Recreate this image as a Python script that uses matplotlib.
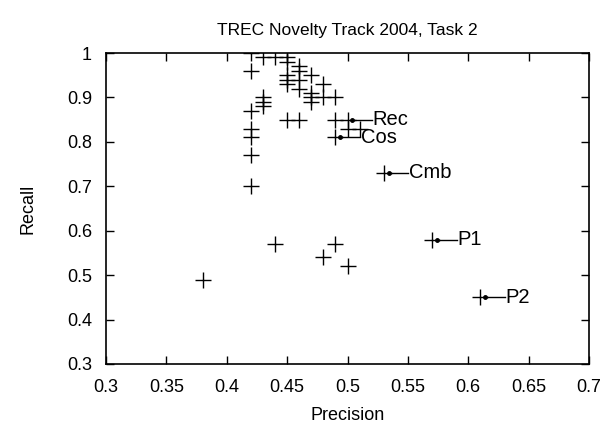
import matplotlib
matplotlib.use("Agg")
import matplotlib.pyplot as plt
from matplotlib.ticker import FuncFormatter

plt.rcParams['font.family'] = ['Liberation Sans', 'DejaVu Sans']

# Unlabelled runs (precision, recall)
precision = [0.42, 0.42, 0.42, 0.42, 0.42, 0.42, 0.42,
             0.43, 0.43, 0.43, 0.43,
             0.44,
             0.45, 0.45, 0.45, 0.45, 0.45, 0.45,
             0.46, 0.46, 0.46, 0.46, 0.46,
             0.47, 0.47, 0.47, 0.47,
             0.48, 0.48,
             0.49, 0.49,
             0.50, 0.51,
             0.38, 0.44, 0.48, 0.49, 0.50]
recall = [1.00, 0.96, 0.87, 0.83, 0.81, 0.77, 0.70,
          0.99, 0.90, 0.89, 0.88,
          0.99,
          0.99, 0.98, 0.95, 0.94, 0.93, 0.85,
          0.97, 0.96, 0.94, 0.92, 0.85,
          0.95, 0.91, 0.90, 0.89,
          0.93, 0.90,
          0.90, 0.85,
          0.83, 0.83,
          0.49, 0.57, 0.54, 0.57, 0.52]

# Labelled runs
lab_names = ['Rec', 'Cos', 'Cmb', 'P1', 'P2']
lab_precision = [0.50, 0.49, 0.53, 0.57, 0.61]
lab_recall = [0.85, 0.81, 0.73, 0.58, 0.45]

x_ticks = [0.3, 0.35, 0.4, 0.45, 0.5, 0.55, 0.6, 0.65, 0.7]
y_ticks = [0.3, 0.4, 0.5, 0.6, 0.7, 0.8, 0.9, 1.0]

fig = plt.figure(figsize=(6.08, 4.25), dpi=100)
ax = fig.add_axes([106/608, 1-364/425, (589-106)/608, (364-53)/425])

ax.plot(precision + lab_precision, recall + lab_recall, linestyle='none',
        marker='+', markersize=11, markeredgewidth=1.0, color='black')

for name, px, py in zip(lab_names, lab_precision, lab_recall):
    ax.plot([px + 0.004, px + 0.0205], [py, py], color='black', lw=1.0)
    ax.plot([px + 0.004], [py], marker='o', markersize=2.5, color='black')
    ax.text(px + 0.021, py, name, ha='left', va='center', fontsize=14.5)

ax.set_xlim(0.3, 0.7)
ax.set_ylim(0.3, 1.0)
ax.set_xticks(x_ticks)
ax.set_yticks(y_ticks)
fmt = FuncFormatter(lambda v, p: ('%g' % round(v, 3)))
ax.xaxis.set_major_formatter(fmt)
ax.yaxis.set_major_formatter(fmt)
ax.tick_params(direction='in', length=6, width=1, top=True, right=True,
               labelsize=13)
ax.tick_params(axis='x', pad=11)
ax.tick_params(axis='y', pad=10)
for s in ax.spines.values():
    s.set_linewidth(1.2)

ax.set_xlabel('Precision', fontsize=13, labelpad=8)
ax.set_ylabel('Recall', fontsize=13, labelpad=22)
ax.set_title('TREC Novelty Track 2004, Task 2', fontsize=12.5, pad=13)

fig.savefig('out.png', dpi=100)
